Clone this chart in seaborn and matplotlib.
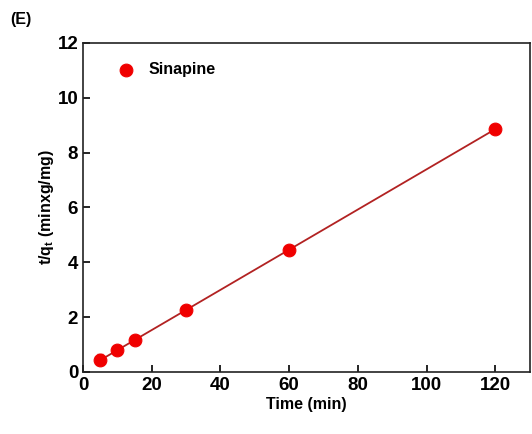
import numpy as np
import matplotlib.pyplot as plt
import seaborn as sns
import pandas as pd

# данные
time_min = [5, 10, 15, 30, 60, 120]
t_qt = [0.45, 0.80, 1.15, 2.25, 4.45, 8.87]
t_qt_err = [0.20, 0.10, 0.12, 0.08, 0.06, 0.05]

df = pd.DataFrame({'Time': time_min, 'tqt': t_qt})

sns.set_style('ticks')
plt.rcParams['font.family'] = ['Liberation Sans', 'DejaVu Sans']
plt.rcParams['mathtext.fontset'] = 'custom'
plt.rcParams['mathtext.bf'] = 'Liberation Sans:bold'
plt.rcParams['text.color'] = 'black'
plt.rcParams['axes.labelcolor'] = 'black'
plt.rcParams['xtick.color'] = 'black'
plt.rcParams['ytick.color'] = 'black'

fig, ax = plt.subplots(figsize=(5.32, 4.34), dpi=100)
fig.subplots_adjust(left=0.156, right=0.996, top=0.901, bottom=0.143)

# линейная аппроксимация
k, b = np.polyfit(time_min, t_qt, 1)
xfit = np.array([min(time_min), max(time_min)])
ax.plot(xfit, k * xfit + b, color='#b22222', linewidth=1.3, zorder=2)

ax.errorbar(time_min, t_qt, yerr=t_qt_err, fmt='none', ecolor='#e8000b',
            elinewidth=1.5, capsize=2, zorder=3)
sns.scatterplot(data=df, x='Time', y='tqt', color='#f00000', s=85,
                edgecolor='#f00000', label='Sinapine', ax=ax, zorder=4)

ax.set_xlim(0, 130)
ax.set_ylim(0, 12)
ax.set_xticks([0, 20, 40, 60, 80, 100, 120])
ax.set_yticks([0, 2, 4, 6, 8, 10, 12])
ax.tick_params(direction='in', length=5, width=1.2, labelsize=13.5)
for lbl in ax.get_xticklabels() + ax.get_yticklabels():
    lbl.set_fontweight('bold')
for sp in ax.spines.values():
    sp.set_linewidth(1.2)
    sp.set_color('#222222')

ax.set_xlabel('Time (min)', fontsize=11.5, fontweight='bold', labelpad=2)
ax.set_ylabel(r't/q$_\mathbf{t}$ (minxg/mg)', fontsize=11.5, fontweight='bold', labelpad=1)

leg = ax.legend(loc='upper left', bbox_to_anchor=(0.028, 0.985), frameon=False,
                fontsize=11.5, handletextpad=0.45, markerscale=1.0)
for t in leg.get_texts():
    t.set_fontweight('bold')

fig.text(0.02, 0.945, '(E)', fontsize=11.5, fontweight='bold')

plt.savefig('out.png', dpi=100)
plt.close()
